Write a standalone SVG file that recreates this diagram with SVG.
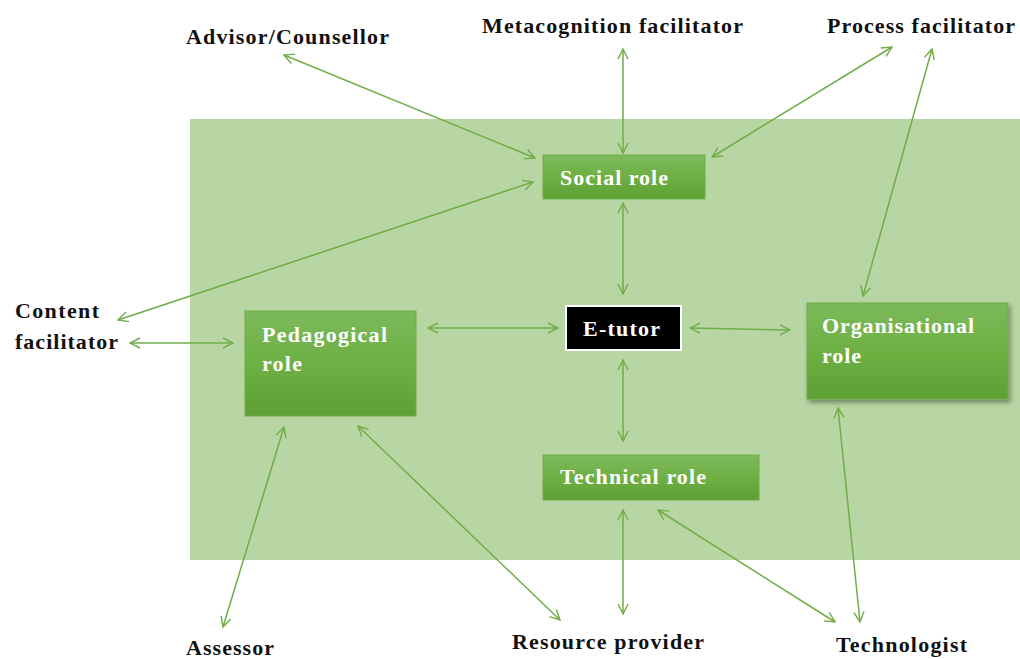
<svg xmlns="http://www.w3.org/2000/svg" width="1020" height="659" viewBox="0 0 1020 659">
<defs>
<linearGradient id="g" x1="0" y1="0" x2="0" y2="1">
<stop offset="0" stop-color="#7db95c"/>
<stop offset="0.5" stop-color="#6eb043"/>
<stop offset="1" stop-color="#5f9f35"/>
</linearGradient>
<filter id="sh" x="-10%" y="-10%" width="125%" height="130%">
<feDropShadow dx="2" dy="3" stdDeviation="2.5" flood-color="#000" flood-opacity="0.4"/>
</filter>
<marker id="ah" viewBox="0 0 12 12" refX="11" refY="6" markerWidth="12" markerHeight="12" markerUnits="userSpaceOnUse" orient="auto-start-reverse">
<path d="M1,1 L11,6 L1,11" fill="none" stroke="#70ad47" stroke-width="1.4"/>
</marker>
</defs>
<style>
.lbl{font-family:"Liberation Serif","Times New Roman",serif;font-weight:bold;font-size:22px;fill:#111}
.wt{font-family:"Liberation Serif","Times New Roman",serif;font-weight:bold;font-size:22px;fill:#fff}
.box{fill:url(#g);stroke:#70ad47;stroke-width:1}
.c line{stroke:#70ad47;stroke-width:1.5;marker-start:url(#ah);marker-end:url(#ah)}
</style>
<rect width="1020" height="659" fill="#fff"/>
<rect id="bg" x="190" y="119" width="830" height="441" fill="#b8d6a4"/>

<g id="social"><rect class="box" x="543" y="155" width="162" height="44"/><text class="wt" x="560" y="185" textLength="108" lengthAdjust="spacing">Social role</text></g>
<g id="pedagogical"><rect class="box" x="245" y="311" width="171" height="105"/><text class="wt" x="262" y="342" textLength="125" lengthAdjust="spacing">Pedagogical</text><text class="wt" x="262" y="371" textLength="40" lengthAdjust="spacing">role</text></g>
<g id="etutor"><rect x="566" y="306" width="115" height="44" fill="#000" stroke="#fff" stroke-width="2"/><text class="wt" x="583" y="336" textLength="77" lengthAdjust="spacing">E-tutor</text></g>
<g id="organisational"><rect class="box" x="807" y="303" width="201" height="96" filter="url(#sh)"/><text class="wt" x="822" y="333" textLength="152" lengthAdjust="spacing">Organisational</text><text class="wt" x="822" y="363" textLength="39" lengthAdjust="spacing">role</text></g>
<g id="technical"><rect class="box" x="543" y="455" width="216" height="45"/><text class="wt" x="560" y="484" textLength="146" lengthAdjust="spacing">Technical role</text></g>

<g id="advisor"><text class="lbl" x="186" y="44" textLength="203" lengthAdjust="spacing">Advisor/Counsellor</text></g>
<g id="metacognition"><text class="lbl" x="482" y="33" textLength="261" lengthAdjust="spacing">Metacognition facilitator</text></g>
<g id="process"><text class="lbl" x="827" y="33" textLength="188" lengthAdjust="spacing">Process facilitator</text></g>
<g id="content"><text class="lbl" x="15" y="318" textLength="84" lengthAdjust="spacing">Content</text><text class="lbl" x="15" y="349" textLength="103" lengthAdjust="spacing">facilitator</text></g>
<g id="assessor"><text class="lbl" x="186" y="655" textLength="88" lengthAdjust="spacing">Assessor</text></g>
<g id="resource"><text class="lbl" x="512" y="649" textLength="192" lengthAdjust="spacing">Resource provider</text></g>
<g id="technologist"><text class="lbl" x="836" y="652" textLength="131" lengthAdjust="spacing">Technologist</text></g>

<g class="c" id="connectors">
<line x1="284" y1="55" x2="535" y2="158"/>
<line x1="623" y1="49" x2="623" y2="153"/>
<line x1="892" y1="47" x2="712" y2="157"/>
<line x1="932" y1="49" x2="863" y2="296"/>
<line x1="533" y1="182" x2="118" y2="320"/>
<line x1="130" y1="343" x2="233" y2="343"/>
<line x1="623" y1="203" x2="623" y2="294"/>
<line x1="428" y1="328" x2="558" y2="328"/>
<line x1="690" y1="328" x2="790" y2="330"/>
<line x1="623" y1="360" x2="623" y2="441"/>
<line x1="284" y1="427" x2="223" y2="627"/>
<line x1="358" y1="426" x2="560" y2="620"/>
<line x1="623" y1="510" x2="623" y2="614"/>
<line x1="658" y1="510" x2="835" y2="622"/>
<line x1="838" y1="408" x2="860" y2="622"/>
</g>
</svg>
